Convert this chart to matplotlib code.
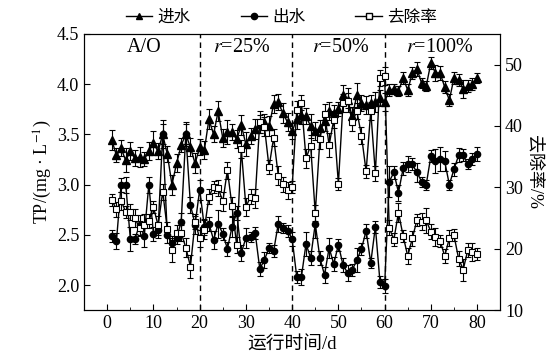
import matplotlib
matplotlib.use('Agg')
from matplotlib import pyplot as plt
from matplotlib.lines import Line2D
from matplotlib.ticker import MultipleLocator, FormatStrFormatter

plt.rcParams['font.family'] = ['Liberation Serif', 'Noto Sans CJK SC']
plt.rcParams['mathtext.fontset'] = 'stix'
plt.rcParams['font.size'] = 13

days = list(range(1, 81))

influent = [3.44, 3.29, 3.36, 3.24, 3.33, 3.26, 3.27, 3.25, 3.33, 3.41,
            3.33, 3.50, 3.30, 3.00, 3.21, 3.39, 3.50, 3.37, 3.21, 3.37,
            3.34, 3.65, 3.50, 3.73, 3.46, 3.52, 3.52, 3.45, 3.59, 3.40,
            3.48, 3.55, 3.60, 3.62, 3.58, 3.80, 3.82, 3.71, 3.62, 3.53,
            3.65, 3.69, 3.68, 3.58, 3.53, 3.56, 3.63, 3.73, 3.71, 3.75,
            3.89, 3.84, 3.68, 3.89, 3.81, 3.79, 3.81, 3.82, 3.86, 3.82,
            3.94, 3.95, 3.93, 4.06, 3.94, 4.11, 4.15, 4.01, 3.98, 4.21,
            4.11, 4.11, 3.97, 3.84, 4.06, 4.04, 3.95, 3.98, 4.00, 4.06]
influent_err = [0.10, 0.07, 0.08, 0.12, 0.09, 0.08, 0.10, 0.07, 0.09, 0.12,
                0.08, 0.14, 0.08, 0.10, 0.09, 0.07, 0.12, 0.09, 0.10, 0.08,
                0.09, 0.10, 0.08, 0.10, 0.09, 0.12, 0.08, 0.09, 0.10, 0.12,
                0.08, 0.10, 0.09, 0.08, 0.10, 0.09, 0.08, 0.10, 0.09, 0.08,
                0.10, 0.09, 0.08, 0.12, 0.09, 0.08, 0.10, 0.09, 0.08, 0.07,
                0.10, 0.12, 0.09, 0.12, 0.08, 0.09, 0.08, 0.10, 0.08, 0.09,
                0.06, 0.05, 0.05, 0.06, 0.06, 0.06, 0.07, 0.05, 0.05, 0.06,
                0.08, 0.07, 0.06, 0.06, 0.06, 0.06, 0.09, 0.06, 0.06, 0.05]

effluent = [2.49, 2.44, 3.00, 3.00, 2.46, 2.46, 2.60, 2.49, 3.00, 2.51,
            2.55, 3.50, 2.50, 2.42, 2.47, 2.63, 3.50, 2.80, 2.60, 2.95,
            2.58, 2.61, 2.45, 2.61, 2.51, 2.36, 2.58, 2.72, 2.32, 2.47,
            2.48, 2.52, 2.16, 2.25, 2.37, 2.34, 2.61, 2.57, 2.54, 2.46,
            2.08, 2.08, 2.41, 2.27, 2.61, 2.27, 2.10, 2.37, 2.21, 2.40,
            2.20, 2.12, 2.15, 2.25, 2.36, 2.54, 2.22, 2.58, 2.03, 1.99,
            3.03, 3.12, 2.92, 3.16, 3.20, 3.20, 3.12, 3.03, 3.00, 3.28,
            3.23, 3.25, 3.23, 3.00, 3.15, 3.29, 3.29, 3.20, 3.25, 3.30]
effluent_err = [0.06, 0.08, 0.07, 0.08, 0.12, 0.05, 0.10, 0.11, 0.08, 0.07,
                0.08, 0.10, 0.08, 0.07, 0.06, 0.09, 0.10, 0.08, 0.09, 0.10,
                0.08, 0.07, 0.09, 0.14, 0.06, 0.07, 0.10, 0.07, 0.08, 0.10,
                0.05, 0.06, 0.07, 0.08, 0.05, 0.06, 0.08, 0.05, 0.06, 0.07,
                0.06, 0.08, 0.12, 0.07, 0.14, 0.07, 0.08, 0.10, 0.07, 0.06,
                0.07, 0.08, 0.06, 0.12, 0.06, 0.07, 0.05, 0.06, 0.06, 0.07,
                0.15, 0.06, 0.08, 0.06, 0.08, 0.06, 0.09, 0.05, 0.05, 0.06,
                0.12, 0.12, 0.10, 0.05, 0.06, 0.07, 0.06, 0.05, 0.06, 0.07]

removal = [27.9, 26.4, 27.8, 26.0, 26.0, 25.0, 23.3, 23.9, 24.5, 26.8,
           23.8, 29.3, 23.2, 19.8, 22.6, 22.6, 20.2, 17.1, 24.4, 21.7,
           23.1, 28.5, 30.1, 29.9, 27.7, 32.8, 26.9, 20.6, 36.2, 26.8,
           28.5, 28.2, 40.7, 39.9, 33.3, 38.1, 31.9, 30.5, 29.5, 30.0,
           42.6, 43.8, 34.7, 36.8, 25.8, 37.8, 42.0, 36.9, 41.0, 30.6,
           43.7, 44.1, 40.7, 42.4, 38.4, 32.6, 42.4, 32.3, 47.8, 48.1,
           23.4, 21.5, 25.9, 22.1, 18.8, 21.7, 24.7, 24.4, 24.6, 22.8,
           21.9, 21.3, 18.8, 21.7, 22.2, 18.4, 16.6, 19.8, 19.5, 19.1]
removal_err = [1.0, 1.2, 1.5, 1.0, 1.3, 1.5, 1.2, 1.8, 1.2, 1.0,
               1.5, 1.3, 1.2, 2.0, 1.2, 1.3, 1.5, 1.8, 1.2, 1.4,
               1.5, 1.2, 1.0, 1.3, 1.5, 1.4, 1.5, 1.3, 1.5, 1.5,
               1.2, 1.5, 1.8, 1.6, 1.2, 1.4, 1.5, 1.2, 1.4, 1.0,
               1.5, 1.2, 1.5, 1.8, 1.3, 1.6, 1.5, 2.0, 1.4, 1.0,
               1.5, 1.2, 1.6, 1.3, 1.4, 1.0, 1.5, 1.2, 1.3, 1.5,
               1.2, 1.0, 1.5, 1.0, 1.3, 1.2, 1.0, 1.4, 2.0, 1.2,
               1.5, 1.0, 1.2, 1.3, 1.0, 1.2, 1.8, 1.2, 1.5, 1.0]

stage_bounds = [20, 40, 60]
stage_labels = ['A/O', '$r$=25%', '$r$=50%', '$r$=100%']
stage_centres = [8, 29, 50.5, 72]

fig = plt.figure(figsize=(5.57, 3.64), dpi=100)
ax = fig.add_axes([0.151, 0.148, 0.747, 0.759])
ax2 = ax.twinx()

eb = dict(color='black', lw=1.0, elinewidth=0.8, capsize=2.5, capthick=0.8)
ax.errorbar(days, influent, yerr=influent_err, marker='^', ms=5.5,
            mfc='black', mec='black', **eb)
ax.errorbar(days, effluent, yerr=effluent_err, marker='o', ms=4.5,
            mfc='black', mec='black', **eb)
ax2.errorbar(days, removal, yerr=removal_err, marker='s', ms=4.5,
             mfc='white', mec='black', mew=0.8, **eb)

for b in stage_bounds:
    ax.axvline(b, color='black', ls=(0, (4, 3)), lw=1.0)
for xc, lab in zip(stage_centres, stage_labels):
    ax.text(xc, 4.36, lab, ha='center', va='center', fontsize=14.5)

ax.set_xlim(-5, 85)
ax.set_ylim(1.75, 4.5)
ax2.set_ylim(10, 55)
ax.xaxis.set_major_locator(MultipleLocator(10))
ax.xaxis.set_minor_locator(MultipleLocator(5))
ax.yaxis.set_major_locator(MultipleLocator(0.5))
ax.yaxis.set_major_formatter(FormatStrFormatter('%.1f'))
ax2.yaxis.set_major_locator(MultipleLocator(10))
ax.tick_params(which='both', direction='in', labelsize=13)
ax.tick_params(which='major', length=4)
ax.tick_params(which='minor', length=2)
ax2.tick_params(direction='in', length=4, labelsize=13)

ax.set_xlabel('运行时间/d', fontsize=13.5, labelpad=3)
ax.set_ylabel('TP/(mg · L$^{-1}$)', fontsize=13, labelpad=2)
ax2.set_ylabel('去除率/%', fontsize=13, rotation=270, labelpad=14)

handles = [Line2D([], [], color='black', lw=1.0, marker='^', ms=5, mfc='black'),
           Line2D([], [], color='black', lw=1.0, marker='o', ms=4.5, mfc='black'),
           Line2D([], [], color='black', lw=1.0, marker='s', ms=4.5, mfc='white')]
fig.legend(handles, ['进水', '出水', '去除率'], loc='upper center',
           bbox_to_anchor=(0.505, 1.015), ncol=3, frameon=False,
           handlelength=1.6, handletextpad=0.3, columnspacing=3.0, fontsize=12)

fig.savefig('out.png', dpi=100)
